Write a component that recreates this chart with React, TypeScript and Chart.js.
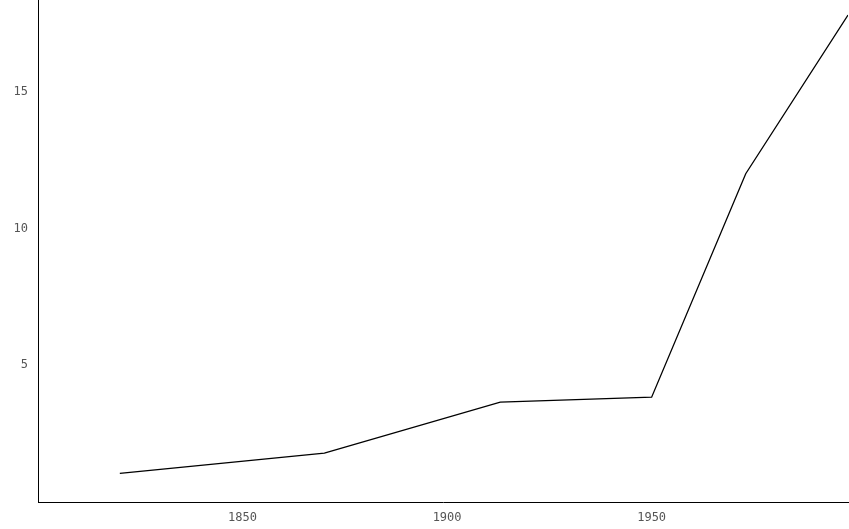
import React, { useEffect, useRef } from "react";
import { Chart, registerables } from "chart.js";

Chart.register(...registerables);

const years = [1820, 1870, 1913, 1950, 1973, 1998];
const values = [1.05, 1.79, 3.65, 3.83, 12.0, 17.8];
const yTicks = [5, 10, 15];
const xTicks = [1850, 1900, 1950];

export default function App() {
    const canvasRef = useRef<HTMLCanvasElement | null>(null);

    useEffect(() => {
        document.body.style.margin = "0";
        if (!canvasRef.current) return;
        const chart = new Chart(canvasRef.current, {
            type: "line",
            data: {
                datasets: [
                    {
                        data: years.map((y, i) => ({ x: y, y: values[i] })),
                        borderColor: "#000",
                        borderWidth: 1.3,
                        pointRadius: 0,
                        tension: 0,
                    },
                ],
            },
            options: {
                animation: false,
                responsive: true,
                maintainAspectRatio: false,
                layout: { padding: { top: 0, right: 1, left: 0, bottom: 0 } },
                plugins: { legend: { display: false }, tooltip: { enabled: false } },
                scales: {
                    x: {
                        type: "linear",
                        min: 1800,
                        max: 1998,
                        afterFit: (s: any) => {
                            s.height = 27;
                            s.paddingLeft = 0;
                            s.paddingRight = 0;
                        },
                        afterBuildTicks: (s: any) => { s.ticks = xTicks.map((v) => ({ value: v })); },
                        grid: { display: false, drawTicks: false },
                        border: { color: "#000", width: 1 },
                        ticks: {
                            color: "#555",
                            font: { family: "DejaVu Sans Mono", size: 12 },
                            padding: 9,
                            callback: (v: any) => String(v),
                        },
                    },
                    y: {
                        min: 0,
                        max: 18.35,
                        afterFit: (s: any) => {
                            s.width = 38;
                            s.paddingTop = 0;
                            s.paddingBottom = 0;
                        },
                        afterBuildTicks: (s: any) => { s.ticks = yTicks.map((v) => ({ value: v })); },
                        grid: { display: false, drawTicks: false },
                        border: { color: "#000", width: 1 },
                        ticks: {
                            color: "#555",
                            font: { family: "DejaVu Sans Mono", size: 12 },
                            padding: 10,
                            callback: (v: any) => String(v),
                        },
                    },
                },
            },
        });
        return () => chart.destroy();
    }, []);

    return (
        <div style={{ width: 849, height: 529, background: "#fff" }}>
            <canvas ref={canvasRef}></canvas>
        </div>
    );
}
